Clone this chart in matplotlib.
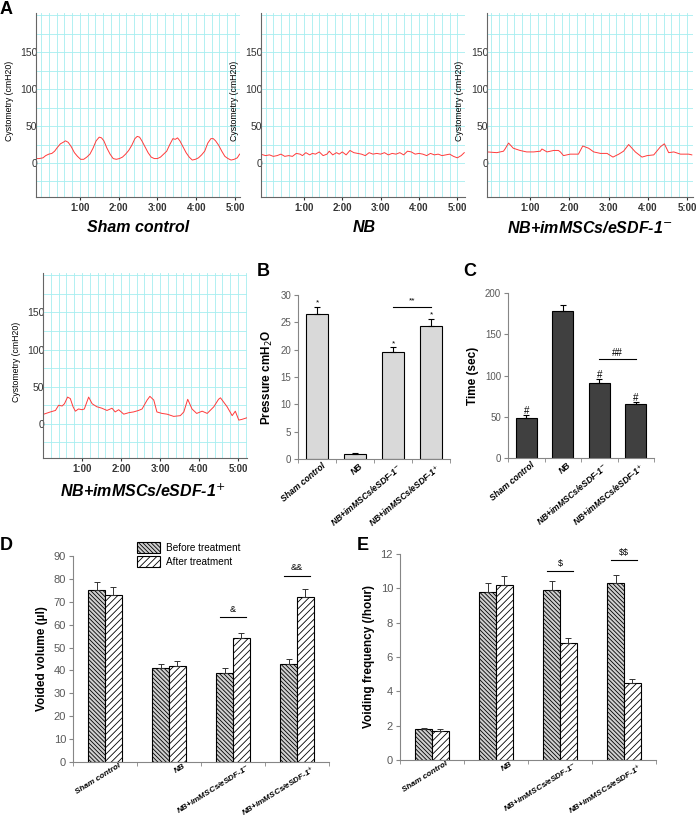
import numpy as np
import matplotlib.pyplot as plt
from matplotlib.transforms import ScaledTranslation

W, H = 696, 819
plt.rcParams['font.family'] = ['Liberation Sans', 'DejaVu Sans']
plt.rcParams['hatch.linewidth'] = 0.6

# --------------------------
# Data
# --------------------------
minute_labels = ['1:00', '2:00', '3:00', '4:00', '5:00']

# cystometry traces (time in minutes, pressure in cmH2O)
sham_t = [-0.12, -0.05, 0.05, 0.12, 0.2, 0.28, 0.35, 0.42, 0.5, 0.57, 0.63, 0.7, 0.78, 0.86,
          0.94, 1.02, 1.1, 1.18, 1.26, 1.34, 1.42, 1.5, 1.56, 1.62, 1.7, 1.78, 1.86, 1.94,
          2.02, 2.1, 2.18, 2.26, 2.34, 2.42, 2.48, 2.54, 2.6, 2.68, 2.76, 2.84, 2.92, 3.0,
          3.08, 3.16, 3.24, 3.32, 3.4, 3.46, 3.52, 3.58, 3.66, 3.74, 3.82, 3.9, 3.98, 4.06,
          4.14, 4.22, 4.3, 4.38, 4.44, 4.5, 4.58, 4.66, 4.74, 4.82, 4.9, 4.98, 5.06, 5.12]
sham_p = [6, 6, 7, 10, 12, 13, 16, 21, 26, 28, 30, 28, 22, 14,
          9, 5, 5, 8, 12, 20, 30, 35, 34, 30, 20, 12, 6, 5,
          6, 8, 12, 17, 24, 33, 36, 35, 30, 22, 14, 8, 6, 6,
          8, 12, 16, 25, 33, 32, 34, 30, 22, 14, 8, 4, 5, 7,
          11, 16, 27, 33, 33, 30, 24, 16, 9, 6, 4, 5, 7, 12]

nb_t = [-0.13, 0.0, 0.1, 0.2, 0.3, 0.4, 0.5, 0.6, 0.7, 0.8, 0.9, 0.96, 1.05, 1.15, 1.22,
        1.3, 1.4, 1.5, 1.6, 1.66, 1.75, 1.85, 1.92, 2.0, 2.1, 2.2, 2.3, 2.4, 2.5, 2.6,
        2.7, 2.8, 2.9, 3.0, 3.1, 3.2, 3.3, 3.4, 3.5, 3.6, 3.7, 3.8, 3.9, 4.0, 4.1, 4.2,
        4.3, 4.4, 4.5, 4.6, 4.7, 4.8, 4.9, 5.0, 5.1, 5.18]
nb_p = [12, 10, 11, 9, 10, 12, 9, 10, 9, 13, 12, 10, 14, 11, 13,
        12, 15, 10, 12, 16, 11, 14, 12, 15, 11, 17, 14, 13, 12, 10,
        14, 12, 13, 12, 14, 11, 13, 12, 14, 11, 16, 15, 12, 13, 12, 10,
        13, 11, 12, 10, 11, 12, 9, 7, 10, 14]

neg_t = [-0.09, 0.15, 0.32, 0.36, 0.45, 0.57, 0.74, 0.91, 1.09, 1.26, 1.3, 1.43, 1.6,
         1.72, 1.77, 1.85, 2.02, 2.23, 2.34, 2.49, 2.62, 2.79, 2.96, 3.11, 3.26, 3.38,
         3.51, 3.68, 3.85, 3.98, 4.15, 4.32, 4.42, 4.53, 4.66, 4.83, 5.04, 5.12]
neg_p = [15, 14, 16, 19, 27, 20, 17, 15, 15, 16, 19, 15, 17,
         17, 15, 10, 12, 12, 23, 20, 15, 13, 13, 8, 12, 16,
         25, 15, 8, 10, 11, 22, 26, 14, 15, 12, 12, 11]

pos_t = [0.02, 0.19, 0.32, 0.4, 0.49, 0.55, 0.63, 0.7, 0.77, 0.83, 0.91, 1.0, 1.06, 1.17,
         1.26, 1.38, 1.51, 1.64, 1.77, 1.85, 1.94, 2.07, 2.2, 2.32, 2.45, 2.54, 2.67, 2.74,
         2.84, 2.92, 3.05, 3.18, 3.35, 3.52, 3.61, 3.71, 3.82, 3.94, 4.08, 4.21, 4.38, 4.5,
         4.55, 4.72, 4.85, 4.93, 5.02, 5.1, 5.22]
pos_p = [13, 16, 18, 25, 24, 27, 36, 34, 23, 17, 20, 19, 20, 36,
         27, 23, 21, 18, 21, 16, 19, 13, 15, 16, 18, 20, 32, 37,
         32, 16, 14, 13, 10, 11, 16, 33, 20, 14, 17, 14, 23, 33,
         35, 23, 11, 17, 5, 6, 8]

groups = ['Sham control', 'NB', 'NB+imMSCs/eSDF-1$^{-}$', 'NB+imMSCs/eSDF-1$^{+}$']

pressure = [26.5, 1.0, 19.5, 24.3]
pressure_err = [1.3, 0.1, 0.9, 1.3]
pressure_mark = ['*', '', '*', '*']

time_sec = [49, 178, 91, 65]
time_err = [3, 8, 5, 3]
time_mark = ['#', '', '#', '#']

vol_before = [75, 41, 39, 43]
vol_before_err = [3.5, 2, 2, 2]
vol_after = [73, 42, 54, 72]
vol_after_err = [3.5, 2, 2.5, 3.5]

freq_before = [1.8, 9.8, 9.9, 10.3]
freq_before_err = [0.08, 0.5, 0.5, 0.5]
freq_after = [1.7, 10.2, 6.8, 4.5]
freq_after_err = [0.08, 0.5, 0.3, 0.2]

fig = plt.figure(figsize=(W / 100, H / 100), dpi=100)


def box(l, t, r, b):
    return fig.add_axes([l / W, 1 - b / H, (r - l) / W, (b - t) / H])


def ftext(x, y, s, **kw):
    fig.text(x / W, 1 - y / H, s, **kw)


# --------------------------
# A: cystometry traces
# --------------------------
def trace_panel(ax, t, p, xlim, title, tx, ty):
    ax.plot(t, p, color='#ff3b3b', lw=0.7)
    ax.set_xlim(xlim)
    ax.set_ylim(-46, 203)
    ax.set_xticks([1, 2, 3, 4, 5])
    ax.set_xticklabels(minute_labels)
    ax.set_xticks(np.arange(0, xlim[1], 0.2), minor=True)
    ax.set_yticks([0, 50, 100, 150])
    ax.set_yticks(np.arange(-25, 201, 25), minor=True)
    ax.grid(which='both', color='#a6eef0', lw=0.6)
    ax.set_axisbelow(True)
    for s in ['top', 'right']:
        ax.spines[s].set_visible(False)
    for s in ['left', 'bottom']:
        ax.spines[s].set_color('#666666')
        ax.spines[s].set_linewidth(0.8)
    ax.tick_params(axis='y', which='both', length=0, labelsize=7.5, colors='#333333', pad=-1)
    ax.tick_params(axis='x', which='minor', length=0)
    ax.tick_params(axis='x', which='major', length=2, labelsize=7, pad=2, colors='#333333')
    for lab in ax.get_xticklabels():
        lab.set_fontweight('bold')
    ax.set_ylabel('Cystometry (cmH20)', fontsize=6.3)
    ax.yaxis.set_label_coords(-0.11, 0.52)
    ftext(tx, ty, title, ha='center', va='center', fontsize=11.5,
          fontweight='bold', style='italic')


trace_panel(box(36, 13, 240, 197), sham_t, sham_p, (-0.13, 5.13), 'Sham control', 138, 228)
trace_panel(box(261, 13, 465, 197), nb_t, nb_p, (-0.12, 5.2), 'NB', 364, 228)
trace_panel(box(487, 13, 693, 197), neg_t, neg_p, (-0.1, 5.15), groups[2], 590, 228)
trace_panel(box(43, 273, 247, 458), pos_t, pos_p, (0, 5.23), groups[3], 143, 491)


# --------------------------
# B, C: single bars
# --------------------------
def style_bar_axes(ax, ylim, yticks, ylabel, rot, dx, lsize, tsize, lpad):
    ax.set_xlim(-0.5, 3.5)
    ax.set_ylim(ylim)
    ax.set_yticks(yticks)
    ax.set_xticks(range(4))
    ax.set_xticklabels(groups, rotation=rot, ha='right', rotation_mode='anchor',
                       fontsize=lsize, fontweight='bold', style='italic')
    ax.set_xticks(np.arange(-0.5, 4, 1), minor=True)
    ax.tick_params(axis='x', which='major', length=0, pad=lpad)
    ax.tick_params(axis='x', which='minor', length=3, color='#868686')
    ax.tick_params(axis='y', length=3, labelsize=tsize, colors='#595959', pad=2)
    ax.tick_params(axis='y', color='#868686')
    for s in ['top', 'right']:
        ax.spines[s].set_visible(False)
    for s in ['left', 'bottom']:
        ax.spines[s].set_color('#868686')
        ax.spines[s].set_linewidth(0.8)
    for lab in ax.get_xticklabels():
        lab.set_transform(lab.get_transform() + ScaledTranslation(dx / 72, 0, fig.dpi_scale_trans))
    ax.set_ylabel(ylabel, fontsize=8.5, fontweight='bold')


def sig_line(ax, x1, x2, y, s, dy, fs):
    ax.plot([x1, x2], [y, y], color='black', lw=0.8, clip_on=False)
    ax.text((x1 + x2) / 2, y + dy, s, ha='center', va='bottom', fontsize=fs, clip_on=False)


x = np.arange(4)

ax = box(298, 295, 450, 459)
ax.bar(x, pressure, 0.58, color='#d9d9d9', edgecolor='black', lw=0.8)
ax.errorbar(x, pressure, yerr=[np.zeros(4), pressure_err], fmt='none', ecolor='black',
            elinewidth=0.8, capsize=2, capthick=0.8)
for xi, v, e, m in zip(x, pressure, pressure_err, pressure_mark):
    ax.text(xi, v + e + 0.1, m, ha='center', va='bottom', fontsize=6)
sig_line(ax, 2, 3, 27.8, '**', 0.4, 6)
style_bar_axes(ax, (0, 30), range(0, 31, 5), 'Pressure cmH$_2$O', 40, 3, 6.2, 7, 2)

ax = box(508, 293, 654, 458)
ax.bar(x, time_sec, 0.58, color='#404040', edgecolor='black', lw=0.8)
ax.errorbar(x, time_sec, yerr=[np.zeros(4), time_err], fmt='none', ecolor='black',
            elinewidth=0.8, capsize=2, capthick=0.8)
for xi, v, e, m in zip(x, time_sec, time_err, time_mark):
    ax.text(xi, v + e - 1, m, ha='center', va='bottom', fontsize=7)
sig_line(ax, 2, 3, 120, '##', 1, 7)
style_bar_axes(ax, (0, 200), range(0, 201, 50), 'Time (sec)', 40, 3, 6.2, 7, 2)


# --------------------------
# D, E: before / after bars
# --------------------------
def paired(ax, before, before_err, after, after_err):
    bw = 0.26
    b1 = ax.bar(x - bw / 2, before, bw, facecolor='#cfcfcf', edgecolor='black',
                hatch='\\\\\\\\\\\\\\\\', lw=0.8, label='Before treatment')
    b2 = ax.bar(x + bw / 2, after, bw, facecolor='white', edgecolor='black',
                hatch='/////', lw=0.8, label='After treatment')
    ax.errorbar(x - bw / 2, before, yerr=[np.zeros(4), before_err], fmt='none',
                ecolor='#333333', elinewidth=0.7, capsize=2, capthick=0.7)
    ax.errorbar(x + bw / 2, after, yerr=[np.zeros(4), after_err], fmt='none',
                ecolor='#333333', elinewidth=0.7, capsize=2, capthick=0.7)
    return b1, b2


ax = box(73, 556, 329, 762)
b1, b2 = paired(ax, vol_before, vol_before_err, vol_after, vol_after_err)
sig_line(ax, 2 - 0.21, 2 + 0.21, 63.3, '&', 1.5, 6.5)
sig_line(ax, 3 - 0.21, 3 + 0.21, 81.3, '&&', 1.5, 6.5)
style_bar_axes(ax, (0, 90), range(0, 91, 10), 'Voided volume (µl)', 32, 10, 5.9, 8, 0.5)
ax.legend(handles=[b1, b2], loc='upper left', bbox_to_anchor=(137 / W, 1 - 542 / H),
          bbox_transform=fig.transFigure, frameon=False, fontsize=7.2,
          handlelength=2.3, handleheight=1.3, labelspacing=0.35, handletextpad=0.6,
          borderaxespad=0, borderpad=0)

ax = box(400, 554, 656, 760)
paired(ax, freq_before, freq_before_err, freq_after, freq_after_err)
sig_line(ax, 2 - 0.2, 2 + 0.2, 11.0, r'\$', 0.2, 6.5)
sig_line(ax, 3 - 0.2, 3 + 0.2, 11.65, r'\$\$', 0.2, 6.5)
style_bar_axes(ax, (0, 12), range(0, 13, 2), 'Voiding frequency (/hour)', 32, 10, 5.9, 8, 0.5)

# panel letters
for s, px, py in [('A', 0, 9), ('B', 257, 271), ('C', 463, 271), ('D', 0, 546), ('E', 357, 545)]:
    ftext(px, py, s, ha='left', va='center', fontsize=13, fontweight='bold')

fig.savefig('out.png', dpi=100)
